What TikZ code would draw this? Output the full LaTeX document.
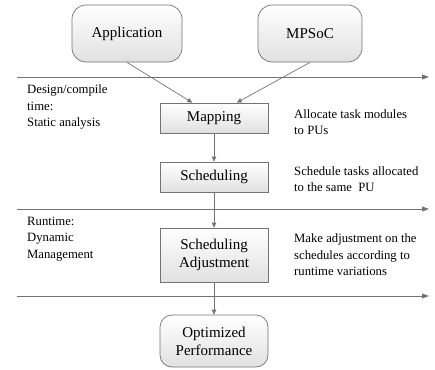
\documentclass[tikz,border=0pt]{standalone}
\usepackage{fontspec}
\setmainfont{Liberation Serif}
\usetikzlibrary{arrows.meta,calc}
\begin{document}
\begin{tikzpicture}[x=1pt,y=-1pt,
  boxfill/.style={draw=black!55, line width=0.7pt, top color=white, bottom color=black!12},
  roundbox/.style={boxfill, rounded corners=14pt, minimum width=110pt, align=center,
    font=\fontsize{15}{18}\selectfont},
  stepbox/.style={boxfill, minimum width=108pt, align=center,
    font=\fontsize{15}{18}\selectfont},
  note/.style={anchor=west, align=left, inner sep=0pt,
    font=\fontsize{12.7}{16.5}\selectfont},
  timeline/.style={draw=black!55, line width=0.8pt, -{Triangle[length=7pt,width=5pt]}},
  flow/.style={draw=black!55, line width=0.7pt, -{Triangle[length=5pt,width=4.5pt]}}]
\useasboundingbox (0,0) rectangle (435,369);

% sources
\node[roundbox, minimum height=57pt] (app) at (127,33.5) {Application};
\node[roundbox, minimum width=104pt, minimum height=57pt] (soc) at (310,33.5) {MPSoC};

% processing steps
\node[stepbox, minimum height=30pt] (map) at (214,118) {Mapping};
\node[stepbox, minimum height=30pt] (sched) at (214,177) {Scheduling};
\node[stepbox, minimum height=54pt] (adj) at (214,255) {Scheduling\\Adjustment};
\node[roundbox, minimum width=108pt, minimum height=52pt, rounded corners=12pt] (perf) at (214,341) {Optimized\\Performance};

% time axes
\coordinate (t1s) at (17,77);  \coordinate (t1e) at (429,77);
\coordinate (t2s) at (17,209); \coordinate (t2e) at (429,209);
\coordinate (t3s) at (17,296); \coordinate (t3e) at (429,296);
\draw[timeline] (t1s) -- (t1e);
\draw[timeline] (t2s) -- (t2e);
\draw[timeline] (t3s) -- (t3e);

% flow arrows
\draw[flow] (app.south) -- ($(map.north west)!0.3!(map.north east)$);
\draw[flow] (soc.south) -- ($(map.north west)!0.71!(map.north east)$);
\draw[flow] (map) -- (sched);
\draw[flow] (sched) -- (adj);
\draw[flow] (adj) -- (perf);

% phase labels
\node[note] (phase1) at (27,107) {Design/compile\\time:\\Static analysis};
\node[note] (phase2) at (27,239) {Runtime:\\Dynamic\\Management};

% step descriptions
\node[note] (d1) at (294,122) {Allocate task modules\\to PUs};
\node[note] (d2) at (294,179) {Schedule tasks allocated\\to the same\ \ PU};
\node[note] (d3) at (294,255) {Make adjustment on the\\schedules according to\\runtime variations};
\end{tikzpicture}
\end{document}
